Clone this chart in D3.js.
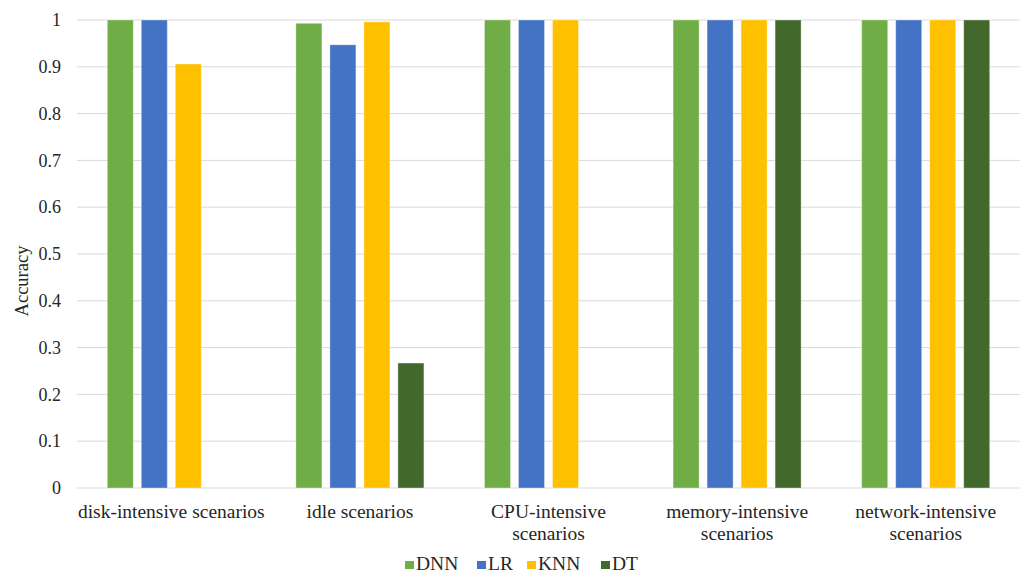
<!DOCTYPE html>
<html><head><meta charset="utf-8">
<script src="https://cdn.jsdelivr.net/npm/d3@7"></script>
<style>body{margin:0;background:#fff}svg{display:block}text{font-family:"Liberation Serif","Times New Roman",serif;fill:#262626}</style>
</head><body><svg id="c" width="1025" height="575"></svg>
<script>
const categories = ["disk-intensive scenarios","idle scenarios","CPU-intensive\nscenarios","memory-intensive\nscenarios","network-intensive\nscenarios"];
const seriesNames = ["DNN","LR","KNN","DT"];
const seriesColors = ["#70ad47","#4472c4","#ffc000","#43682b"];
const DNN = [1, 0.993, 1, 1, 1];
const LR  = [1, 0.947, 1, 1, 1];
const KNN = [0.906, 0.996, 1, 1, 1];
const DT  = [0, 0.267, 0, 1, 1];
const yTicks = [0,0.1,0.2,0.3,0.4,0.5,0.6,0.7,0.8,0.9,1];
const series = [DNN, LR, KNN, DT];

const FONT = '"Liberation Serif","Times New Roman",serif';
const svg = d3.select("#c");
const x0 = d3.scaleBand().domain(categories).range([77,1020]).padding(0);
const groupW = 136;
const x1 = d3.scaleBand().domain(seriesNames)
  .range([(x0.bandwidth()-groupW)/2,(x0.bandwidth()+groupW)/2])
  .paddingInner(0.235).paddingOuter(0.1175);
const y = d3.scaleLinear().domain([0,1]).range([488,20]);

// gridlines
svg.append("g").selectAll("line").data(yTicks).join("line")
  .attr("x1",77).attr("x2",1020).attr("y1",d=>y(d)).attr("y2",d=>y(d))
  .attr("stroke","#d9d9d9").attr("stroke-width",1);

// y axis labels
const yAxis = d3.axisLeft(y).tickValues(yTicks).tickSize(0).tickPadding(0).tickFormat(d3.format("~g"));
const ya = svg.append("g").attr("transform","translate(61,0)").call(yAxis);
ya.attr("font-family",null).attr("font-size",null);
ya.select(".domain").remove();
ya.selectAll("text").style("font-size","18px").style("font-family",FONT).attr("fill","#262626");

// bars
const groups = svg.append("g").selectAll("g").data(categories).join("g")
  .attr("transform",d=>`translate(${x0(d)},0)`);
groups.selectAll("rect").data((c,i)=>series.map((s,j)=>({name:seriesNames[j],v:s[i],color:seriesColors[j]})).filter(d=>d.v>0))
  .join("rect")
  .attr("x",d=>x1(d.name)).attr("width",x1.bandwidth())
  .attr("y",d=>y(d.v)).attr("height",d=>y(0)-y(d.v))
  .attr("fill",d=>d.color).attr("stroke","#ffffff").attr("stroke-opacity",0.35).attr("stroke-width",1);

// x axis labels
const xAxis = d3.axisBottom(x0).tickSize(0).tickPadding(0);
const xa = svg.append("g").attr("transform","translate(0,488)").call(xAxis);
xa.attr("font-family",null).attr("font-size",null);
xa.select(".domain").remove();
xa.selectAll("text").style("font-size","19.5px").style("font-family",FONT).attr("fill","#262626")
  .each(function(d){
    const t = d3.select(this); t.text(null).attr("y",null).attr("dy",null);
    d.split("\n").forEach((l,i)=>t.append("tspan").attr("x",0).attr("y",30+i*22).text(l));
  });

// y title
svg.append("text").attr("transform","translate(28,281) rotate(-90)").attr("text-anchor","middle")
  .style("font-size","18.5px").text("Accuracy");

// legend
const legendX = [405,477,527,601];
const lg = svg.append("g").selectAll("g").data(seriesNames).join("g")
  .attr("transform",(d,i)=>`translate(${legendX[i]},0)`);
lg.append("rect").attr("x",0).attr("y",561).attr("width",9).attr("height",8).attr("fill",(d,i)=>seriesColors[i]);
lg.append("text").attr("x",11).attr("y",569.5).style("font-size","19.5px").text(d=>d);
</script></body></html>
